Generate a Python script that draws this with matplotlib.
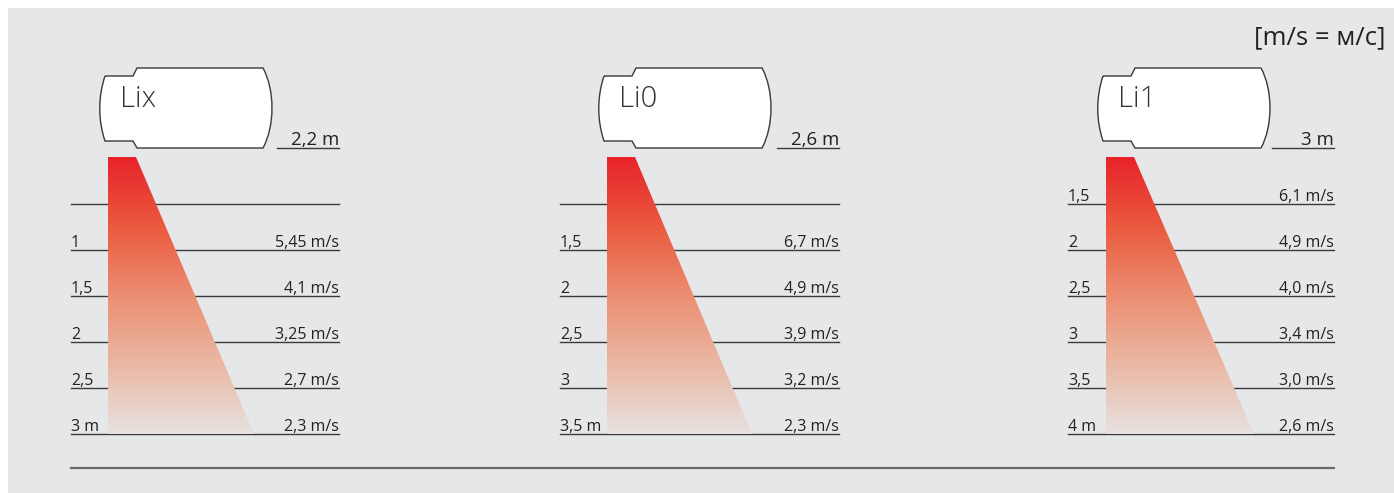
import matplotlib.pyplot as plt
import numpy as np
from matplotlib.path import Path
from matplotlib.patches import PathPatch, Polygon, Rectangle
from matplotlib.colors import LinearSegmentedColormap

plt.rcParams['font.family'] = ['Open Sans', 'DejaVu Sans']

# data
models = ['Lix', 'Li0', 'Li1']
heights = ['2,2 m', '2,6 m', '3 m']
distances = [
    ['', '1', '1,5', '2', '2,5', '3 m'],
    ['', '1,5', '2', '2,5', '3', '3,5 m'],
    ['1,5', '2', '2,5', '3', '3,5', '4 m'],
]
speeds = [
    ['', '5,45 m/s', '4,1 m/s', '3,25 m/s', '2,7 m/s', '2,3 m/s'],
    ['', '6,7 m/s', '4,9 m/s', '3,9 m/s', '3,2 m/s', '2,3 m/s'],
    ['6,1 m/s', '4,9 m/s', '4,0 m/s', '3,4 m/s', '3,0 m/s', '2,6 m/s'],
]
unit_note = '[m/s = м/с]'

# layout (pixels)
dev_x = [0, 499, 998]
line_left = [71, 560, 1068]
line_right = [339, 839, 1334]
row_y0, row_step = 204, 46
cone_right_bottom = [254, 752, 1254]

fig = plt.figure(figsize=(13.94, 4.93), dpi=100)
fig.patch.set_facecolor('white')
ax = fig.add_axes([0, 0, 1, 1])
ax.set_xlim(0, 1394)
ax.set_ylim(493, 0)
ax.axis('off')

ax.add_patch(Rectangle((8, 8), 1394, 493, facecolor='#e6e7e9', edgecolor='none', zorder=0))

cmap = LinearSegmentedColormap.from_list('cone', ['#e8232a', '#ea5a3f', '#ec8e72', '#eab8a4', '#e7e2e0'])
line_col = '#3a3a3a'

for p in range(3):
    dx = dev_x[p]
    # device outline
    verts = [
        (105 + dx, 76), (133 + dx, 76), (137 + dx, 68), (263 + dx, 68),
        (275 + dx, 90), (275 + dx, 126), (263 + dx, 148),
        (137 + dx, 148), (133 + dx, 141), (105 + dx, 141),
        (98 + dx, 120), (98 + dx, 97), (105 + dx, 76),
    ]
    codes = [Path.MOVETO, Path.LINETO, Path.LINETO, Path.LINETO,
             Path.CURVE4, Path.CURVE4, Path.CURVE4,
             Path.LINETO, Path.LINETO, Path.LINETO,
             Path.CURVE4, Path.CURVE4, Path.CURVE4]
    ax.add_patch(PathPatch(Path(verts, codes), facecolor='white', edgecolor='#3a3a3a', lw=1.0, zorder=3))
    ax.text(120 + dx, 99, models[p], fontsize=21, color='#333333', va='center', ha='left',
            fontweight='light', zorder=4)

    # mounting height
    ax.plot([line_right[p] - 62, line_right[p]], [148, 148], color=line_col, lw=1.0, zorder=2)
    ax.text(line_right[p], 145, heights[p], fontsize=13.5, color='#222222', ha='right', va='baseline', zorder=4)

    # rows
    for i, (d, s) in enumerate(zip(distances[p], speeds[p])):
        y = row_y0 + row_step * i
        ax.plot([line_left[p], line_right[p]], [y, y], color=line_col, lw=1.0, zorder=1)
        ax.text(line_left[p], y - 3, d, fontsize=11.5, color='#222222', ha='left', va='baseline', zorder=4)
        ax.text(line_right[p], y - 3, s, fontsize=11.5, color='#222222', ha='right', va='baseline', zorder=4)

    # air cone with gradient
    x_left = 108 + dx
    top_y = 157
    bot_y = row_y0 + row_step * 5
    poly = Polygon([(x_left, top_y), (136 + dx, top_y), (cone_right_bottom[p], bot_y), (x_left, bot_y)],
                   closed=True, facecolor='none', edgecolor='none')
    ax.add_patch(poly)
    grad = np.linspace(0, 1, 256).reshape(-1, 1)
    im = ax.imshow(grad, cmap=cmap, aspect='auto',
                   extent=(x_left, cone_right_bottom[p], bot_y, top_y), zorder=2, interpolation='bilinear')
    im.set_clip_path(poly)

ax.plot([71, 1334], [468, 468], color='#6a6a6a', lw=1.6, zorder=1)
ax.text(1385, 38, unit_note, fontsize=18.5, color='#222222', ha='right', va='center')

fig.savefig('out.png', dpi=100, facecolor=fig.get_facecolor())
